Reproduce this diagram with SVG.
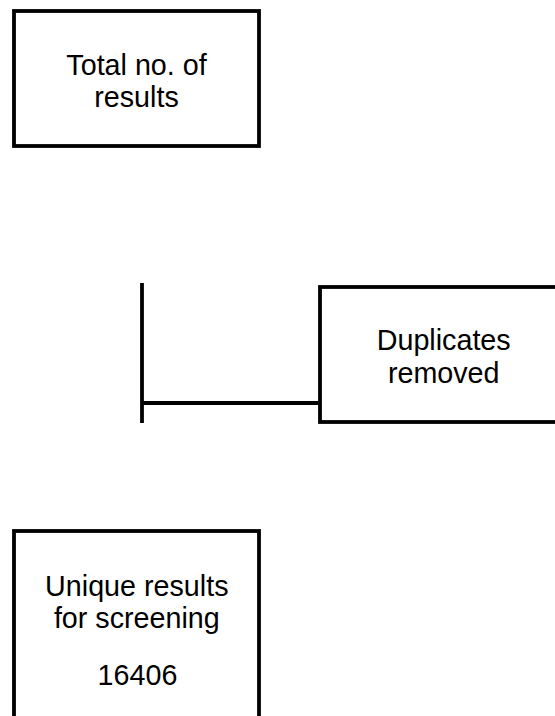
<svg xmlns="http://www.w3.org/2000/svg" width="555" height="716" viewBox="0 0 555 716">
<style>
.box{fill:#fff;stroke:#000;stroke-width:3.8}
.lbl{font-family:"Liberation Sans",Arial,sans-serif;font-size:28.7px;fill:#000;text-anchor:middle}
.conn{stroke:#000;stroke-width:3.8;fill:none}
</style>
<rect width="555" height="716" fill="#fff"/>
<g id="connectors">
<line class="conn" x1="142" y1="283" x2="142" y2="423"/>
<line class="conn" x1="142" y1="403" x2="320" y2="403"/>
</g>
<g id="total">
<rect class="box" x="14" y="11" width="245" height="135"/>
<text class="lbl" x="136.5" y="74.5">Total no. of</text>
<text class="lbl" x="136.5" y="107">results</text>
</g>
<g id="duplicates">
<rect class="box" x="320" y="287" width="246" height="135"/>
<text class="lbl" x="443.7" y="350">Duplicates</text>
<text class="lbl" x="443.7" y="383">removed</text>
</g>
<g id="unique">
<rect class="box" x="14" y="531" width="245" height="200"/>
<text class="lbl" x="136.8" y="595.5">Unique results</text>
<text class="lbl" x="136.8" y="627.5">for screening</text>
<text class="lbl" x="137.5" y="685">16406</text>
</g>
</svg>
